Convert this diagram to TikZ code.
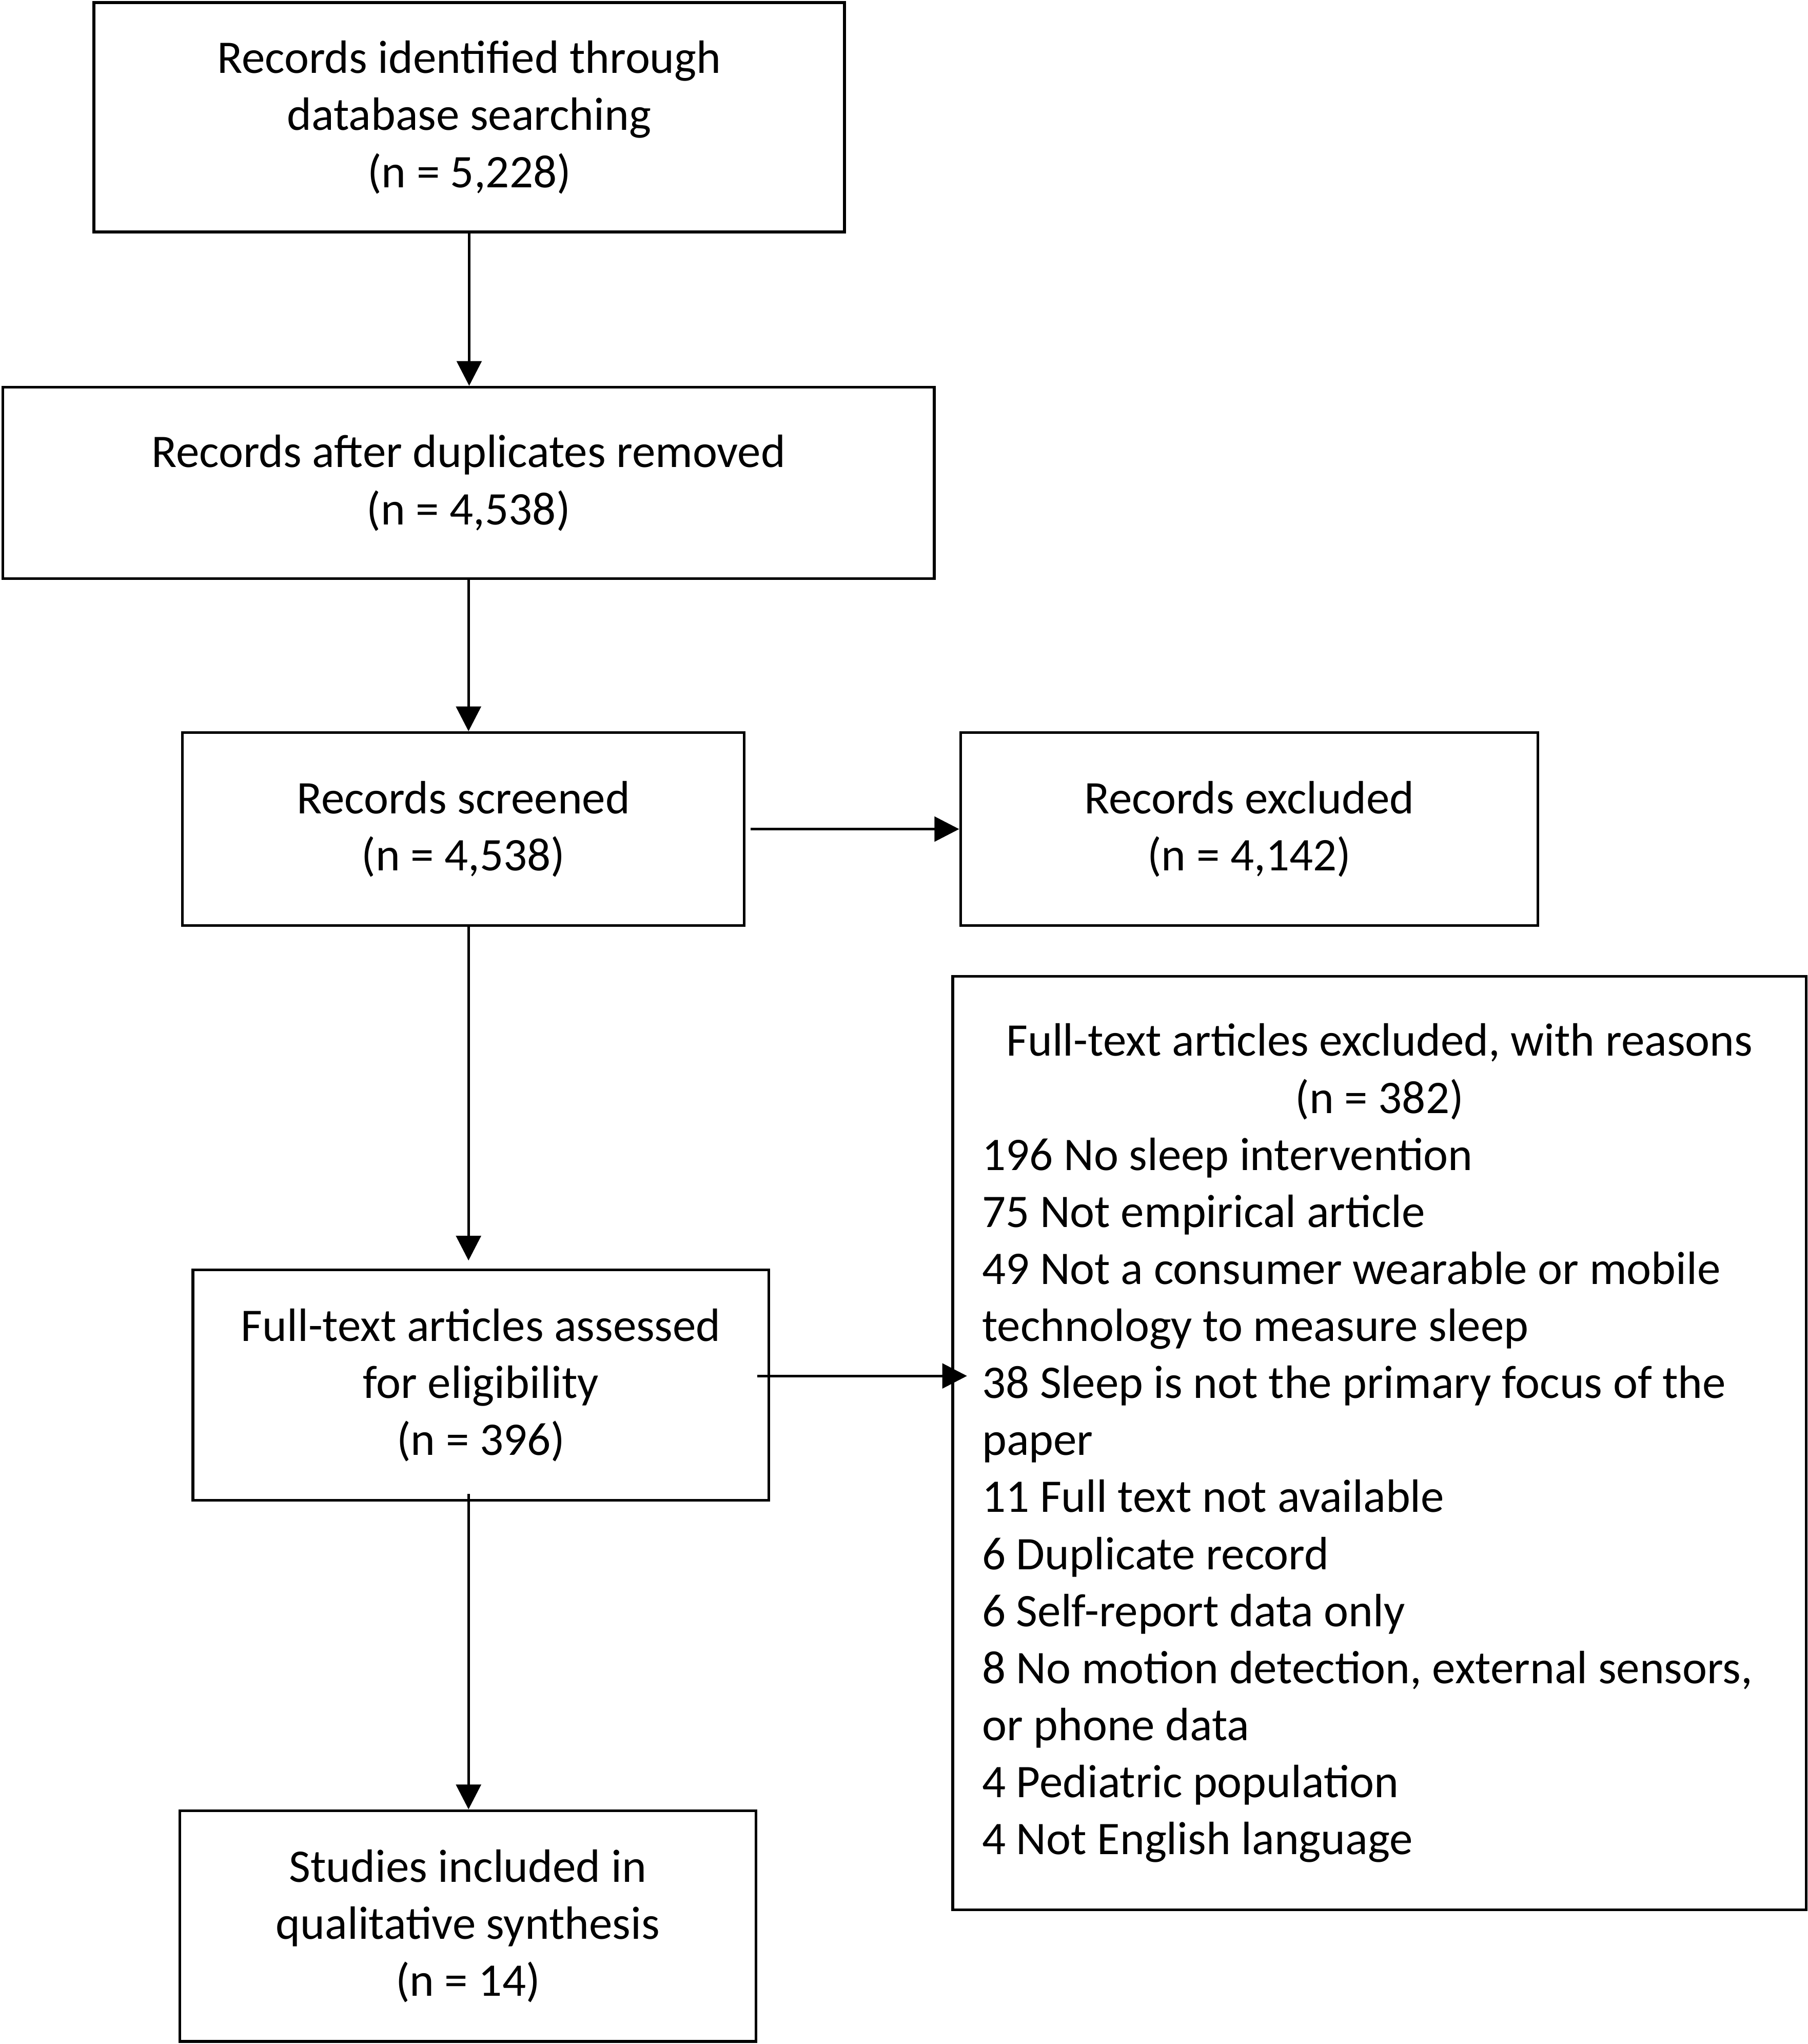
\documentclass[tikz,border=0pt]{standalone}
\usepackage{fontspec}
\setmainfont{Carlito}
\usetikzlibrary{arrows.meta,calc}

\begin{document}
\begin{tikzpicture}[x=0.02cm,y=-0.02cm,
		box/.style={draw,line width=1.2pt,inner sep=0pt,align=center,
			font=\fontsize{20.4pt}{24.9pt}\selectfont},
		flow/.style={line width=1.2pt,-{Triangle[length=0.38cm,width=0.38cm]}}]
		\useasboundingbox (0,0) rectangle (1387,1568);
		% 绘制左侧方框
		\node[box,minimum width=11.52cm,minimum height=3.52cm] (ident) at (360,90)
			{Records identified through\\database searching\\(n = 5,228)};
		\node[box,minimum width=14.3cm,minimum height=2.94cm] (dedup) at (359.5,370.5)
			{Records after duplicates removed\\(n = 4,538)};
		\node[box,minimum width=8.62cm,minimum height=2.96cm] (screen) at (355.5,636)
			{Records screened\\(n = 4,538)};
		\node[box,minimum width=8.84cm,minimum height=3.54cm] (assess) at (369,1062.5)
			{Full-text articles assessed\\for eligibility\\(n = 396)};
		\node[box,minimum width=8.84cm,minimum height=3.54cm] (studies) at (359,1477.5)
			{Studies included in\\qualitative synthesis\\(n = 14)};
		% 绘制右侧方框
		\node[box,align=left,text width=12.2cm,inner xsep=0.45cm,minimum height=14.32cm] (reasons) at (1058.5,1107)
			{\spaceskip=0pt\xspaceskip=0pt\hyphenpenalty=10000
			{\centering Full-text articles excluded, with reasons\\(n = 382)\par}
			\raggedright
			196 No sleep intervention\\
			75 Not empirical article\\
			49 Not a consumer wearable or mobile\\
			technology to measure sleep\\
			38 Sleep is not the primary focus of the\\
			paper\\
			11 Full text not available\\
			6 Duplicate record\\
			6 Self-report data only\\
			8 No motion detection, external sensors,\\
			or phone data\\
			4 Pediatric population\\
			4 Not English language};
		\node[box,minimum width=8.86cm,minimum height=2.96cm] (excl) at (958.5,636)
			{Records excluded\\(n = 4,142)};
		% 绘制箭头
		\draw[flow] (ident.south) -- (ident.south |- dedup.north);
		\draw[flow] (dedup.south) -- (dedup.south |- screen.north);
		\draw[flow] (dedup.south |- screen.south) -- ($(dedup.south |- assess.north)+(0,-6)$);
		\draw[flow] ($(dedup.south |- assess.south)+(0,-6)$) -- (dedup.south |- studies.north);
		\draw[flow] ($(screen.east)+(4,0)$) -- (excl.west);
		\draw[flow] ($(assess.east)+(-10,-7)$) -- ($(assess.east -| reasons.west)+(12,-7)$);
	\end{tikzpicture}
\end{document}
